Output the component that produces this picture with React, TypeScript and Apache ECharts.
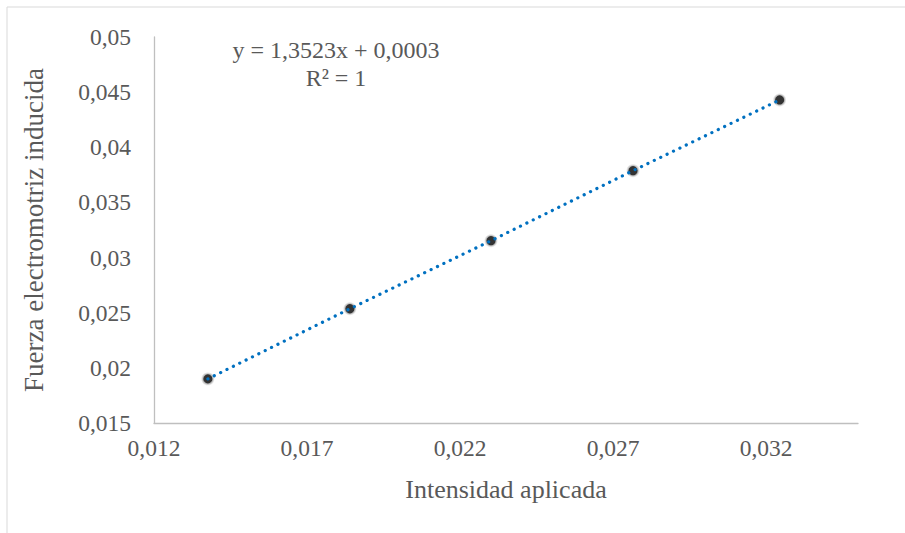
import React, { useEffect, useRef } from "react";
import * as echarts from "echarts";

const intensidad = [0.01376, 0.0184, 0.02301, 0.02765, 0.03244];
const fem = [0.019, 0.02536, 0.03153, 0.03788, 0.04429];
const xTicks = [0.012, 0.017, 0.022, 0.027, 0.032];
const equationLines = ["y = 1,3523x + 0,0003", "R² = 1"];
const xTitle = "Intensidad aplicada";
const yTitle = "Fuerza electromotriz inducida";

const FONT = "Times New Roman, Liberation Serif, serif";
const TXT = "#595959";

const fmt = (v: number) => String(Number(v.toFixed(4))).replace(".", ",");

export default function App() {
  const ref = useRef<HTMLDivElement>(null);
  useEffect(() => {
    if (!ref.current) return;
    const chart = echarts.init(ref.current, undefined, { renderer: "svg" });
    const pts = intensidad.map((x, i) => [x, fem[i]]);
    chart.setOption({
      animation: false,
      backgroundColor: "#ffffff",
      textStyle: { fontFamily: FONT },
      grid: { left: 154, right: 47, top: 37, bottom: 110, containLabel: false },
      xAxis: {
        type: "value",
        min: 0.012,
        max: 0.035,
        interval: 0.005,
        name: xTitle,
        nameLocation: "middle",
        nameGap: 53,
        nameTextStyle: { fontFamily: FONT, fontSize: 26, color: TXT },
        axisLine: { show: true, lineStyle: { color: "#bfbfbf", width: 1.3 } },
        axisTick: { show: false },
        splitLine: { show: false },
        axisLabel: {
          showMaxLabel: false,
          margin: 13,
          fontFamily: FONT,
          fontSize: 23.5,
          color: TXT,
          formatter: (v: number) =>
            xTicks.some((t) => Math.abs(t - v) < 1e-9) ? fmt(v) : "",
        },
      },
      yAxis: {
        type: "value",
        min: 0.015,
        max: 0.05,
        interval: 0.005,
        name: yTitle,
        nameLocation: "middle",
        nameGap: 107,
        nameRotate: 90,
        nameTextStyle: { fontFamily: FONT, fontSize: 27, color: TXT },
        axisLine: { show: true, lineStyle: { color: "#bfbfbf", width: 1.3 } },
        axisTick: { show: false },
        splitLine: { show: false },
        axisLabel: {
          margin: 23,
          fontFamily: FONT,
          fontSize: 23.5,
          color: TXT,
          formatter: (v: number) => fmt(v),
        },
      },
      series: [
        {
          type: "scatter",
          data: pts,
          symbol: "circle",
          symbolSize: 11,
          itemStyle: { color: "#000000", borderColor: "#dcdcdc", borderWidth: 1.8 },
          z: 2,
        },
        {
          type: "line",
          data: pts,
          showSymbol: false,
          symbol: "none",
          lineStyle: { color: "#0070C0", width: 3.2, type: [0.1, 7], cap: "round" },
          z: 3,
        },
      ],
      graphic: [
        {
          type: "rect",
          shape: { x: 7, y: 7, width: 1000, height: 1000 },
          style: { fill: "none", stroke: "#d9d9d9", lineWidth: 1 },
          silent: true,
        },
        {
          type: "text",
          x: 336,
          y: 50,
          style: {
            text: equationLines[0],
            fontFamily: FONT,
            fontSize: 24,
            fill: TXT,
            align: "center",
            verticalAlign: "middle",
          },
        },
        {
          type: "text",
          x: 336,
          y: 78,
          style: {
            text: equationLines[1],
            fontFamily: FONT,
            fontSize: 24,
            fill: TXT,
            align: "center",
            verticalAlign: "middle",
          },
        },
      ],
    });
    return () => chart.dispose();
  }, []);
  return (
    <div
      ref={ref}
      style={{ position: "fixed", left: 0, top: 0, width: 905, height: 533 }}
    />
  );
}
